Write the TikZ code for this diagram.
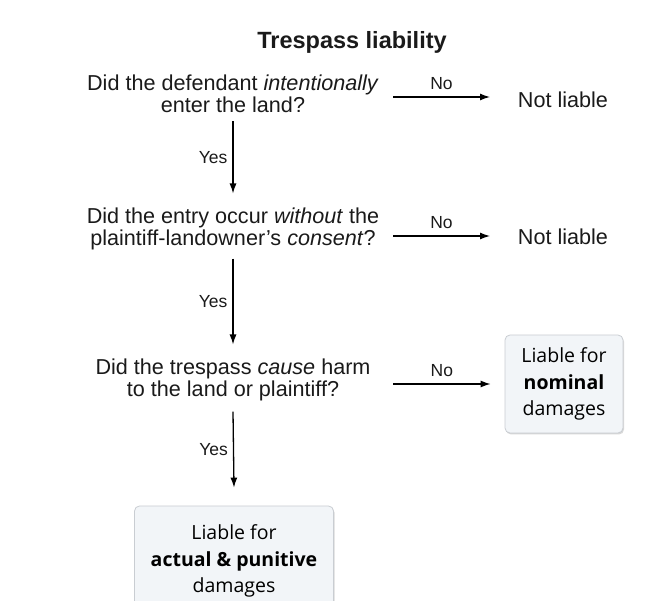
\documentclass[tikz,border=0pt]{standalone}
\usepackage{fontspec}
\setmainfont{Liberation Sans}
\newfontfamily\boxfont{Open Sans}
\usetikzlibrary{arrows.meta,shadows,calc}
\definecolor{boxfill}{HTML}{F2F5F8}
\definecolor{boxline}{HTML}{C9CDD2}
\definecolor{txt}{HTML}{1A1A1A}
\tikzset{
  q/.style={align=center,font=\fontsize{21.6}{22.5}\selectfont,inner sep=0pt,text=txt},
  res/.style={font=\fontsize{21.6}{23}\selectfont,inner sep=0pt,text=txt},
  lab/.style={font=\fontsize{17.5}{19}\selectfont,inner sep=0pt,text=txt},
  outbox/.style={draw=boxline,fill=boxfill,rounded corners=5pt,line width=0.8pt,
    align=center,font=\boxfont\fontsize{19.5}{26.5}\selectfont,text=black,
    drop shadow={shadow xshift=1pt,shadow yshift=-1.5pt,fill=black!30,opacity=0.5}},
  arr/.style={-{Latex[length=10pt,width=7pt]},line width=1.3pt}
}
\begin{document}
\begin{tikzpicture}[x=1pt,y=-1pt]
\useasboundingbox (0,0) rectangle (659,601);
\node[font=\bfseries\fontsize{23.5}{25}\selectfont,text=txt] (title) at (352,42) {Trespass liability};
\node[q] (q1) at (233,94) {Did the defendant \textit{intentionally}\\enter the land?};
\node[res] (n1) at (563,100) {Not liable};
\node[q] (q2) at (233,229) {Did the entry occur \textit{without} the\\plaintiff-landowner's \textit{consent}?};
\node[res] (n2) at (563,237) {Not liable};
\node[q] (q3) at (233,380) {Did the trespass \textit{cause} harm\\to the land or plaintiff?};
\node[outbox,minimum width=118pt,minimum height=98pt] (b1) at (564,384) {Liable for\\\textbf{nominal}\\damages};
\node[outbox,minimum width=199pt,minimum height=110pt] (b2) at (234,561) {Liable for\\\textbf{actual \& punitive}\\damages};
\coordinate (a1s) at (393,97); \coordinate (a1e) at (490,97);
\draw[arr] (a1s) -- node[lab,above=7pt]{No} (a1e);
\coordinate (a2s) at (393,236); \coordinate (a2e) at (490,236);
\draw[arr] (a2s) -- node[lab,above=7pt]{No} (a2e);
\coordinate (a3s) at (393,384);
\draw[arr] (a3s) -- node[lab,above=7pt]{No} ([xshift=-14pt]b1.west);
\draw[arr] ([yshift=-8pt]q1.south) -- node[lab,left=5pt]{Yes} ([yshift=14pt]q2.north);
\draw[arr] ([yshift=-8pt]q2.south) -- node[lab,left=5pt]{Yes} ([yshift=14pt]q3.north);
\draw[arr] ([yshift=-10pt]q3.south) -- node[lab,left=5pt]{Yes} ([yshift=18pt]b2.north);
\end{tikzpicture}
\end{document}
